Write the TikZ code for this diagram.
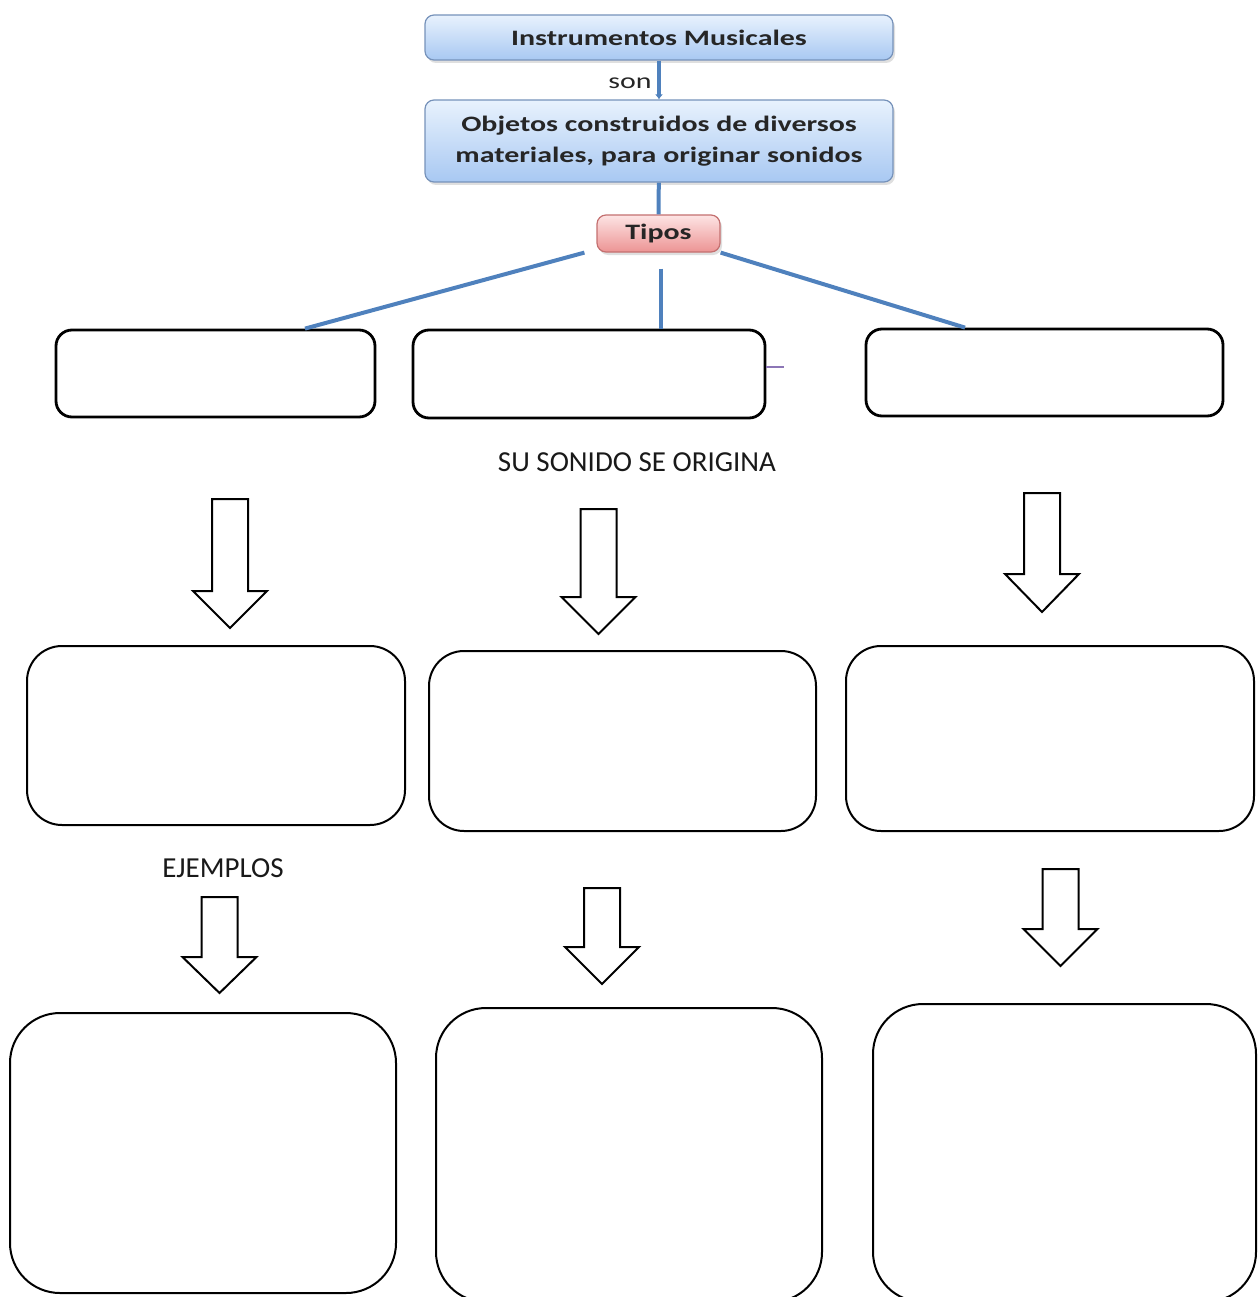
\documentclass[tikz,border=0pt]{standalone}
\usepackage{fontspec}
\setmainfont{Carlito}
\usepackage{graphicx}
\usepackage{tikz}
\usetikzlibrary{shadows,arrows.meta}
\definecolor{linkblue}{RGB}{79,129,189}
\definecolor{boxedge}{RGB}{118,146,186}
\definecolor{bluetop}{RGB}{232,242,253}
\definecolor{bluebot}{RGB}{168,200,242}
\definecolor{redtop}{RGB}{253,228,228}
\definecolor{redbot}{RGB}{236,148,148}
\definecolor{redge}{RGB}{196,112,112}
\definecolor{stub}{RGB}{140,118,182}
\newcommand{\wide}[1]{\scalebox{1.36}[1]{#1}}
\newcommand{\hollowdown}[4]{\draw[hollow] (#1-18,#2) -- (#1+18,#2) -- (#1+18,#3) -- (#1+37,#3) -- (#1,#4) -- (#1-37,#3) -- (#1-18,#3) -- cycle;}

\begin{document}
\begin{tikzpicture}[x=1pt,y=-1pt,
    topbox/.style={draw=boxedge,line width=1.2pt,rounded corners=9pt,top color=bluetop,bottom color=bluebot,
      drop shadow={opacity=0.25,shadow xshift=2pt,shadow yshift=-3pt},inner sep=0pt,align=center,
      font=\fontsize{22}{31}\selectfont\bfseries,text=black!85},
    tipobox/.style={topbox,draw=redge,top color=redtop,bottom color=redbot},
    blank/.style={draw=black,line width=2pt,fill=white,inner sep=0pt},
    link/.style={linkblue,line width=4pt},
    hollow/.style={draw=black,line width=2pt,fill=white,line join=miter},
    label/.style={font=\fontsize{29}{35}\selectfont,text=black!90}]
  \useasboundingbox (0,0) rectangle (1258,1297);

  \node[topbox,minimum width=468pt,minimum height=45pt] (instr) at (659,37.5) {\wide{Instrumentos Musicales}};
  \node[topbox,minimum width=468pt,minimum height=82pt] (objetos) at (659,141)
    {\wide{Objetos construidos de diversos}\\\wide{materiales, para originar sonidos}};
  \node[tipobox,minimum width=123pt,minimum height=37pt] (tipos) at (658.5,233.5) {\wide{Tipos}};
  \node[font=\fontsize{22}{26}\selectfont,text=black!85] (son) at (630,83) {\wide{son}};

  \draw[link,-{Latex[length=5pt,width=8pt]}] (instr) -- (objetos);
  \draw[link] (objetos) -- (tipos);

  \node[blank,line width=2.8pt,rounded corners=16pt,minimum width=319pt,minimum height=87pt] (ta) at (215.5,373.5) {};
  \node[blank,line width=2.8pt,rounded corners=16pt,minimum width=352pt,minimum height=88pt] (tb) at (589,374) {};
  \node[blank,line width=2.8pt,rounded corners=16pt,minimum width=357pt,minimum height=87pt] (tc) at (1044.5,372.5) {};

  \draw[link] ([xshift=-12pt]tipos.south west) -- ([xshift=89.5pt]ta.north);
  \draw[link] ([xshift=2.5pt,yshift=-16pt]tipos.south) -- ([xshift=72pt]tb.north);
  \draw[link] (tipos.south east) -- ([xshift=-79.5pt]tc.north);
  \draw[stub,line width=1.5pt] ([yshift=7pt]tb.east) -- ++(18,0);

  \node[label] (origina) at (637,462) {SU SONIDO SE ORIGINA};

  \hollowdown{230}{499}{591}{628}
  \hollowdown{598.5}{509}{597}{634}
  \hollowdown{1042}{493}{574}{612}

  \node[blank,rounded corners=35pt,minimum width=378pt,minimum height=179pt] (oa) at (216,735.5) {};
  \node[blank,rounded corners=35pt,minimum width=387pt,minimum height=180pt] (ob) at (622.5,741) {};
  \node[blank,rounded corners=35pt,minimum width=408pt,minimum height=185pt] (oc) at (1050,738.5) {};

  \node[label] (ejemplos) at (223,868) {EJEMPLOS};

  \hollowdown{219.5}{897}{957}{993}
  \hollowdown{602}{888}{947}{984}
  \hollowdown{1060.5}{869}{929}{966}

  \node[blank,rounded corners=50pt,minimum width=386pt,minimum height=280pt] (ea) at (203,1153) {};
  \node[blank,rounded corners=50pt,minimum width=386pt,minimum height=294pt] (eb) at (629,1155) {};
  \node[blank,rounded corners=50pt,minimum width=383pt,minimum height=298pt] (ec) at (1064.5,1153) {};
\end{tikzpicture}
\end{document}
